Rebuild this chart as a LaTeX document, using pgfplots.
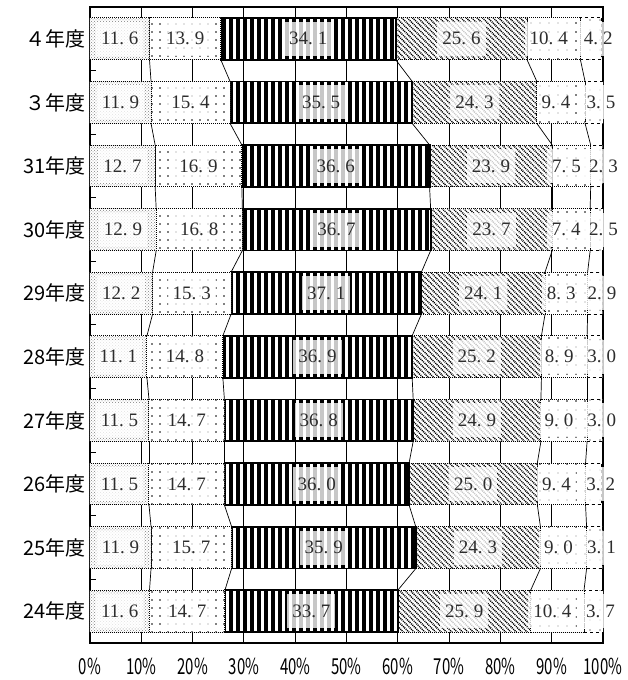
\documentclass[border=0pt]{standalone}
\usepackage{pgfplots}
\usepackage{pgfplotstable}
\pgfplotsset{compat=1.18}
\usepackage{fontspec}
\setmainfont{Liberation Serif}
\newfontfamily\gothic{Noto Sans CJK JP}
\newfontfamily\gothicnarrow[FakeStretch=0.68]{Noto Sans CJK JP}
\usetikzlibrary{patterns,patterns.meta}
\definecolor{labeltext}{RGB}{45,45,45}

% rows from bottom (24年度) to top (４年度)
\pgfplotstableread{
y a b c d e f
0 11.6 14.7 33.7 25.9 10.4 3.7
1 11.9 15.7 35.9 24.3 9.0 3.1
2 11.5 14.7 36.0 25.0 9.4 3.2
3 11.5 14.7 36.8 24.9 9.0 3.0
4 11.1 14.8 36.9 25.2 8.9 3.0
5 12.2 15.3 37.1 24.1 8.3 2.9
6 12.9 16.8 36.7 23.7 7.4 2.5
7 12.7 16.9 36.6 23.9 7.5 2.3
8 11.9 15.4 35.5 24.3 9.4 3.5
9 11.6 13.9 34.1 25.6 10.4 4.2
}\data

% cumulative ends of the segments
\pgfplotstablecreatecol[create col/expr={\thisrow{a}}]{c1}\data
\pgfplotstablecreatecol[create col/expr={\thisrow{c1}+\thisrow{b}}]{c2}\data
\pgfplotstablecreatecol[create col/expr={\thisrow{c2}+\thisrow{c}}]{c3}\data
\pgfplotstablecreatecol[create col/expr={\thisrow{c3}+\thisrow{d}}]{c4}\data
\pgfplotstablecreatecol[create col/expr={\thisrow{c4}+\thisrow{e}}]{c5}\data
\pgfplotstablecreatecol[create col/expr={\thisrow{c5}+\thisrow{f}}]{c6}\data

% value of the next row (bar above), for the series lines
\newcommand\addnext[1]{%
  \pgfplotstablecreatecol[create col/assign/.code={%
      \getnextrow{#1}\nx
      \ifx\nx\empty\getthisrow{#1}\nx\fi
      \pgfkeyslet{/pgfplots/table/create col/next content}\nx}]{n#1}\data}
\addnext{c1}\addnext{c2}\addnext{c3}\addnext{c4}\addnext{c5}

\pgfplotsset{
  frame/.style={scale only axis, width=513pt, height=636pt,
    xmin=0, xmax=100, ymin=-0.5, ymax=9.5},
}
\tikzset{
  labbox/.style={fill=white, fill opacity=0.78, text opacity=0},
  labtext/.style={fill=none, text opacity=1},
}

\newcommand\serline[1]{%
  \addplot[black, line width=0.7pt, quiver={u=\thisrow{n#1}-\thisrow{#1}, v=0.34},
    skip coords between index={9}{10}]
    table[x=#1, y expr=\thisrow{y}+0.33] {\data};}

% #3: labbox (background) or labtext (number); #4: horizontal nudge
\newcommand\seglabel[4]{%
  \addplot[draw=none, mark=none, point meta=explicit,
    nodes near coords={\fontsize{19}{19}\selectfont\pgfmathprintnumber[fixed,fixed zerofill,precision=1,
      dec sep={.\kern0.26em},assume math mode=true]{\pgfplotspointmeta}},
    nodes near coords align=center,
    every node near coord/.append style={anchor=center, text=labeltext,
      inner xsep=5pt, inner ysep=0pt, minimum height=34pt, xshift=#4, #3}]
    table[x expr=\thisrow{#2}-\thisrow{#1}/2, y=y, meta=#1] {\data};}

\newcommand\alllabels[1]{%
  \seglabel{a}{c1}{#1}{0pt}\seglabel{b}{c2}{#1}{0pt}\seglabel{c}{c3}{#1}{0pt}%
  \seglabel{d}{c4}{#1}{0pt}\seglabel{e}{c5}{#1}{-5pt}\seglabel{f}{c6}{#1}{7pt}}

\begin{document}
\begin{tikzpicture}
\path[use as bounding box] (-90pt,-37pt) rectangle (537pt,643pt);
\begin{axis}[name=main, frame, at={(0,0)}, anchor=south west,
  xbar stacked, bar width=0.66,
  axis line style={line width=2pt},
  xtick={0,10,...,100},
  xticklabels={0\%,10\%,20\%,30\%,40\%,50\%,60\%,70\%,80\%,90\%,100\%},
  ytick={0,...,9},
  yticklabels={24年度,25年度,26年度,27年度,28年度,29年度,30年度,31年度,３年度,４年度},
  minor ytick={0.5,1.5,...,8.5},
  major tick length=0pt, minor tick length=6pt,
  every tick/.style={black, line width=1pt},
  ytick pos=left, xtick pos=bottom,
  xmajorgrids, grid style={black, line width=0.9pt},
  yticklabel style={font=\gothic\fontsize{20}{20}\selectfont, xshift=-1pt},
  xticklabel style={font=\gothicnarrow\fontsize{22}{22}\selectfont, yshift=-12pt},
]
\addplot[fill=white, draw=black, line width=1pt, densely dotted,
  postaction={pattern=crosshatch dots, pattern color=gray}]
  table[x=a, y=y] {\data};
\addplot[fill=white, draw=black, line width=1pt, densely dotted,
  postaction={pattern={Dots[distance=8pt, radius=0.9pt]}, pattern color=black}]
  table[x=b, y=y] {\data};
\addplot[fill=white, draw=black, line width=1.8pt,
  postaction={pattern={Lines[angle=90, distance=7pt, line width=3.6pt]}, pattern color=black}]
  table[x=c, y=y] {\data};
\addplot[fill=white, draw=black, line width=1pt, densely dotted,
  postaction={pattern={Lines[angle=-45, distance=3.8pt, line width=1.5pt]}, pattern color=black}]
  table[x=d, y=y] {\data};
\addplot[fill=white, draw=black, line width=1pt, densely dotted,
  postaction={pattern={Dots[distance=9pt, radius=0.8pt]}, pattern color=black}]
  table[x=e, y=y] {\data};
\addplot[fill=white, draw=black, line width=1pt, dashed,
  postaction={pattern={Dots[distance=10pt, radius=0.7pt]}, pattern color=black}]
  table[x=f, y=y] {\data};
\end{axis}

\begin{axis}[frame, at={(0,0)}, anchor=south west, hide axis, clip=false]
\serline{c1}\serline{c2}\serline{c3}\serline{c4}\serline{c5}
\alllabels{labbox}
\alllabels{labtext}
\end{axis}
\end{tikzpicture}
\end{document}
